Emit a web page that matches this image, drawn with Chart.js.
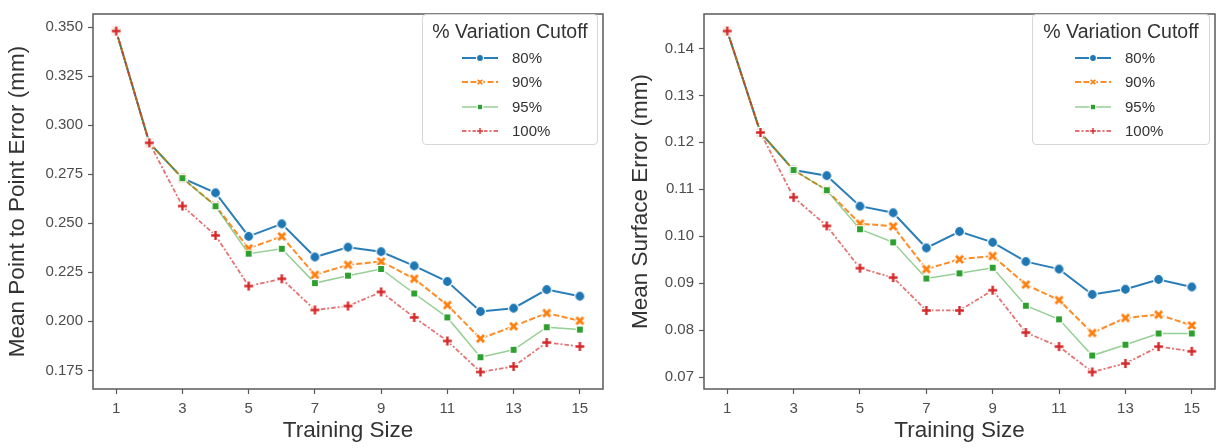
<!DOCTYPE html>
<html>
<head>
<meta charset="utf-8">
<script src="https://cdn.jsdelivr.net/npm/chart.js@4.4.1/dist/chart.umd.min.js"></script>
<style>
  html, body { margin: 0; padding: 0; background: #fff; }
  #wrap { position: relative; width: 1223px; height: 448px; overflow: hidden; font-family: "Liberation Sans", Arial, sans-serif; }
  canvas.main { position: absolute; top: 0; }
  .legend { position: absolute; top: 14px; height: 131px; background: rgba(255,255,255,0.85); border: 1px solid #d6d6d6; border-radius: 4px; box-sizing: border-box; color: #333; }
  .legend .ttl { position: absolute; top: 5px; left: 0; right: 0; text-align: center; font-size: 19.5px; white-space: nowrap; }
  .legend .row { position: absolute; height: 16px; font-size: 15px; line-height: 16px; white-space: nowrap; }
  .legend .row canvas { vertical-align: middle; margin-right: 14px; }
  .legend .row span { vertical-align: middle; }
</style>
</head>
<body>
<div id="wrap">
  <canvas id="left" class="main" width="611" height="448" style="left:0px"></canvas>
  <canvas id="right" class="main" width="612" height="448" style="left:611px"></canvas>
  <div id="legLeft" class="legend" style="left:422px; width:176px"></div>
  <div id="legRight" class="legend" style="left:1032px; width:178px"></div>
</div>
<script>
// x values (training size)
var trainingSize = [1, 2, 3, 4, 5, 6, 7, 8, 9, 10, 11, 12, 13, 14, 15];
var xTickValues = [1, 3, 5, 7, 9, 11, 13, 15];

// series labels (% variation cutoff)
var cutoffLabels = ['80%', '90%', '95%', '100%'];

// left panel: mean point to point error (mm)
var p2p80  = [0.348, 0.291, 0.273, 0.2655, 0.2433, 0.2497, 0.2328, 0.2378, 0.2355, 0.2283, 0.2203, 0.2050, 0.2067, 0.2162, 0.2128];
var p2p90  = [0.348, 0.291, 0.273, 0.2590, 0.2372, 0.2433, 0.2237, 0.2288, 0.2305, 0.2217, 0.2083, 0.1912, 0.1975, 0.2042, 0.2003];
var p2p95  = [0.348, 0.291, 0.273, 0.2587, 0.2345, 0.2370, 0.2195, 0.2233, 0.2267, 0.2142, 0.2020, 0.1817, 0.1855, 0.1970, 0.1958];
var p2p100 = [0.348, 0.291, 0.2588, 0.2438, 0.2180, 0.2217, 0.2058, 0.2078, 0.2150, 0.2020, 0.1900, 0.1742, 0.1770, 0.1892, 0.1872];
var p2pTicks = [0.175, 0.200, 0.225, 0.250, 0.275, 0.300, 0.325, 0.350];

// right panel: mean surface error (mm)
var surf80  = [0.1437, 0.1221, 0.1141, 0.1129, 0.1064, 0.1050, 0.0975, 0.1010, 0.0987, 0.0946, 0.0930, 0.0876, 0.0887, 0.0908, 0.0892];
var surf90  = [0.1437, 0.1221, 0.1141, 0.1098, 0.1027, 0.1021, 0.0930, 0.0951, 0.0958, 0.0897, 0.0864, 0.0794, 0.0826, 0.0833, 0.0810];
var surf95  = [0.1437, 0.1221, 0.1141, 0.1098, 0.1015, 0.0987, 0.0910, 0.0921, 0.0933, 0.0852, 0.0823, 0.0746, 0.0769, 0.0793, 0.0793];
var surf100 = [0.1437, 0.1221, 0.1083, 0.1022, 0.0932, 0.0912, 0.0842, 0.0842, 0.0885, 0.0795, 0.0765, 0.0711, 0.0729, 0.0765, 0.0755];
var surfTicks = [0.07, 0.08, 0.09, 0.10, 0.11, 0.12, 0.13, 0.14];

var FONT = '"Liberation Sans", Arial, sans-serif';
var colors = ['#1f77b4', '#ff7f0e', '#2ca02c', '#d62728'];
var lineColors = ['rgba(31,119,180,0.95)', 'rgba(255,127,14,0.9)', 'rgba(44,160,44,0.5)', 'rgba(214,39,40,0.65)'];
var lineWidths = [2, 2, 1.5, 1.8];
var dashes = [[], [6, 2.5], [], [4.5, 2, 2, 2]];
var markerKinds = ['o', 'X', 's', 'P'];

// draw one marker into a small canvas, used as pointStyle
function makeMarker(kind, color, size) {
    var c = document.createElement('canvas');
    c.width = size; c.height = size;
    var g = c.getContext('2d');
    g.translate(size / 2, size / 2);
    g.fillStyle = color;
    g.strokeStyle = '#fff';
    g.lineWidth = 1.2;
    var r = size / 2 - 1.5;
    g.beginPath();
    if (kind == 'o') {
        g.arc(0, 0, r, 0, Math.PI * 2);
    } else if (kind == 's') {
        var h = r * 0.78;
        g.rect(-h, -h, 2 * h, 2 * h);
    } else {
        var a = r * 0.36;
        var pts = [[-a, -r], [a, -r], [a, -a], [r, -a], [r, a], [a, a], [a, r], [-a, r], [-a, a], [-r, a], [-r, -a], [-a, -a]];
        var rot = kind == 'X' ? Math.PI / 4 : 0;
        if (kind == 'X') {
            // X arms are a bit longer
            pts = pts.map(function (p) { return [p[0] * 1.12, p[1] * 1.12]; });
        }
        for (var i = 0; i < pts.length; i++) {
            var x = pts[i][0] * Math.cos(rot) - pts[i][1] * Math.sin(rot);
            var y = pts[i][0] * Math.sin(rot) + pts[i][1] * Math.cos(rot);
            if (i == 0) g.moveTo(x, y); else g.lineTo(x, y);
        }
        g.closePath();
    }
    g.fill();
    g.stroke();
    return c;
}

var markers = [
    makeMarker('o', colors[0], 13),
    makeMarker('X', colors[1], 13),
    makeMarker('s', colors[2], 12),
    makeMarker('P', colors[3], 13)
];

// box around the plot area
var framePlugin = {
    id: 'frame',
    beforeDatasetsDraw: function (chart) {
        var a = chart.chartArea;
        var ctx = chart.ctx;
        ctx.save();
        ctx.strokeStyle = '#5a5a5a';
        ctx.lineWidth = 1.5;
        ctx.strokeRect(a.left, a.top, a.right - a.left, a.bottom - a.top);
        ctx.restore();
    }
};

function paddedRange(lists) {
    var all = [].concat.apply([], lists);
    var lo = Math.min.apply(null, all), hi = Math.max.apply(null, all);
    var m = (hi - lo) * 0.05;
    return [lo - m, hi + m];
}

function makeChart(id, series, yTicks, decimals, yTitle, titlePad) {
    var datasets = [];
    for (let i = 0; i < series.length; i++) {
        datasets.push({
            label: cutoffLabels[i],
            data: trainingSize.map(function (x, k) { return {x: x, y: series[i][k]}; }),
            borderColor: lineColors[i],
            borderWidth: lineWidths[i],
            borderDash: dashes[i],
            pointStyle: markers[i],
            pointRadius: 6,
            pointHoverRadius: 6,
            backgroundColor: colors[i],
            tension: 0,
            order: 4 - i
        });
    }
    var yr = paddedRange(series);
    var xr = paddedRange([trainingSize]);

    return new Chart(document.getElementById(id), {
        type: 'line',
        data: { datasets: datasets },
        plugins: [framePlugin],
        options: {
            responsive: false,
            animation: false,
            layout: { padding: { left: 0, right: 5, top: 7, bottom: 0 } },
            plugins: { legend: { display: false }, tooltip: { enabled: false } },
            scales: {
                x: {
                    type: 'linear',
                    min: xr[0], max: xr[1],
                    afterBuildTicks: function (s) { s.ticks = xTickValues.map(function (v) { return {value: v}; }); },
                    afterFit: function (s) { s.height = 59; },
                    border: { display: false },
                    grid: { drawOnChartArea: false, drawTicks: true, tickLength: 5, tickColor: '#5a5a5a', tickWidth: 1.2 },
                    ticks: { color: '#4d4d4d', padding: 6, maxRotation: 0, font: { family: FONT, size: 15 } },
                    title: { display: true, text: 'Training Size', color: '#333', padding: { top: 0, bottom: 4 }, font: { family: FONT, size: 22.5 } }
                },
                y: {
                    min: yr[0], max: yr[1],
                    afterBuildTicks: function (s) { s.ticks = yTicks.map(function (v) { return {value: v}; }); },
                    afterFit: function (s) { s.width = 93; },
                    border: { display: false },
                    grid: { drawOnChartArea: false, drawTicks: true, tickLength: 5, tickColor: '#5a5a5a', tickWidth: 1.2 },
                    ticks: {
                        color: '#4d4d4d', padding: 5, font: { family: FONT, size: 15 },
                        callback: function (v) { return Number(v).toFixed(decimals); }
                    },
                    title: { display: true, text: yTitle, color: '#333', padding: { top: titlePad, bottom: 0 }, font: { family: FONT, size: 22.5 } }
                }
            }
        }
    });
}

function buildLegend(boxId, handleLeft) {
    var box = document.getElementById(boxId);
    var t = document.createElement('div');
    t.className = 'ttl';
    t.textContent = '% Variation Cutoff';
    box.appendChild(t);
    for (let i = 0; i < cutoffLabels.length; i++) {
        var row = document.createElement('div');
        row.className = 'row';
        row.style.left = handleLeft + 'px';
        row.style.top = (34 + i * 24.3) + 'px';
        var c = document.createElement('canvas');
        c.width = 36; c.height = 14;
        var g = c.getContext('2d');
        g.strokeStyle = lineColors[i];
        g.lineWidth = lineWidths[i];
        g.setLineDash(dashes[i]);
        g.beginPath();
        g.moveTo(0, 7); g.lineTo(36, 7);
        g.stroke();
        var mk = makeMarker(markerKinds[i], colors[i], 10);
        g.drawImage(mk, 18 - 5, 7 - 5);
        row.appendChild(c);
        var s = document.createElement('span');
        s.textContent = cutoffLabels[i];
        row.appendChild(s);
        box.appendChild(row);
    }
}

makeChart('left', [p2p80, p2p90, p2p95, p2p100], p2pTicks, 3, 'Mean Point to Point Error (mm)', 4);
makeChart('right', [surf80, surf90, surf95, surf100], surfTicks, 2, 'Mean Surface Error (mm)', 16);
buildLegend('legLeft', 39);
buildLegend('legRight', 42);
</script>
</body>
</html>
